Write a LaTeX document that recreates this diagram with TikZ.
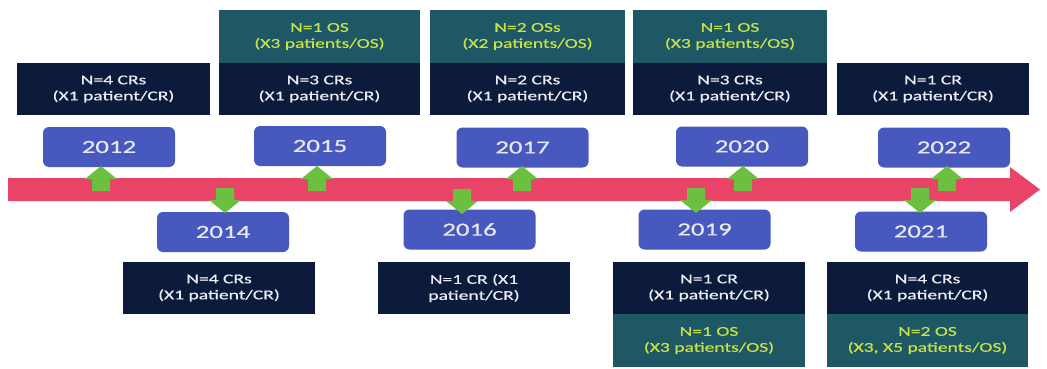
\documentclass[tikz,border=0pt]{standalone}
\usepackage{fontspec}
\setmainfont[FakeStretch=1.45,FakeBold=0.6]{Carlito}
\definecolor{navy}{HTML}{0C1A3C}
\definecolor{teal}{HTML}{1E5864}
\definecolor{ostext}{HTML}{C8E04A}
\definecolor{yearblue}{HTML}{4758BE}
\definecolor{yeartext}{HTML}{E8E8F0}
\definecolor{band}{HTML}{E94468}
\definecolor{grn}{HTML}{6CC040}
\begin{document}
\begin{tikzpicture}[x=1pt,y=-1pt,
  crbox/.style={fill=navy,text=white!92!navy,inner sep=0pt,minimum height=52pt,align=center,font=\fontsize{13.5}{16}\selectfont},
  osbox/.style={fill=teal,text=ostext,inner sep=0pt,minimum height=53pt,align=center,font=\fontsize{13.5}{16}\selectfont},
  yearbox/.style={fill=yearblue,text=yeartext,rounded corners=6pt,inner sep=0pt,minimum width=132pt,minimum height=40pt,font=\fontsize{18.5}{20}\selectfont},
]
\useasboundingbox (0,0) rectangle (1047,369);
\fill[white] (0,0) rectangle (1047,369);
% timeline band
\fill[band] (8,178) -- (1010,178) -- (1010,167) -- (1040,189.5) -- (1010,212) -- (1010,201) -- (8,201) -- cycle;
% top CR boxes
\node[crbox,minimum width=193pt] (c12) at (113.5,89) {N=4 CRs\\(X1 patient/CR)};
\node[crbox,minimum width=201pt] (c15) at (319.5,89) {N=3 CRs\\(X1 patient/CR)};
\node[crbox,minimum width=195pt] (c17) at (527.5,89) {N=2 CRs\\(X1 patient/CR)};
\node[crbox,minimum width=194pt] (c20) at (730,89) {N=3 CRs\\(X1 patient/CR)};
\node[crbox,minimum width=192pt] (c22) at (933,89) {N=1 CR\\(X1 patient/CR)};
% top OS boxes
\node[osbox,minimum width=201pt] (o15) at (319.5,36.5) {N=1 OS\\(X3 patients/OS)};
\node[osbox,minimum width=195pt] (o17) at (527.5,36.5) {N=2 OSs\\(X2 patients/OS)};
\node[osbox,minimum width=194pt] (o20) at (730,36.5) {N=1 OS\\(X3 patients/OS)};
% top year boxes
\node[yearbox] (y12) at (109,147) {2012};
\node[yearbox] (y15) at (320,146) {2015};
\node[yearbox] (y17) at (522.5,147.5) {2017};
\node[yearbox] (y20) at (742,146.5) {2020};
\node[yearbox] (y22) at (944,147.5) {2022};
% bottom year boxes
\node[yearbox] (y14) at (223,232) {2014};
\node[yearbox] (y16) at (469.5,229.5) {2016};
\node[yearbox] (y19) at (704.5,229.5) {2019};
\node[yearbox] (y21) at (921,231.5) {2021};
% bottom CR boxes
\node[crbox,minimum width=192pt] (c14) at (219,288) {N=4 CRs\\(X1 patient/CR)};
\node[crbox,minimum width=192pt] (c16) at (474,288) {N=1 CR (X1\\patient/CR)};
\node[crbox,minimum width=192pt] (c19) at (709,288) {N=1 CR\\(X1 patient/CR)};
\node[crbox,minimum width=201pt] (c21) at (927.5,288) {N=4 CRs\\(X1 patient/CR)};
% bottom OS boxes
\node[osbox,minimum width=192pt] (o19) at (709,340.5) {N=1 OS\\(X3 patients/OS)};
\node[osbox,minimum width=201pt] (o21) at (927.5,340.5) {N=2 OS\\(X3, X5 patients/OS)};
% green up arrows (tip at coordinate)
\foreach \n/\x in {a12/101,a15/317,a17/522,a20/743,a22/947}{
  \coordinate (\n) at (\x,166);
  \fill[grn] (\n) -- ++(16,13) -- ++(-7,0) -- ++(0,12) -- ++(-18,0) -- ++(0,-12) -- ++(-7,0) -- cycle;
}
% green down arrows
\foreach \n/\x/\y in {a14/225/213,a16/462/214,a19/696/213,a21/920/213}{
  \coordinate (\n) at (\x,\y);
  \fill[grn] (\n) -- ++(16,-13) -- ++(-7,0) -- ++(0,-12) -- ++(-18,0) -- ++(0,12) -- ++(-7,0) -- cycle;
}
\end{tikzpicture}
\end{document}
